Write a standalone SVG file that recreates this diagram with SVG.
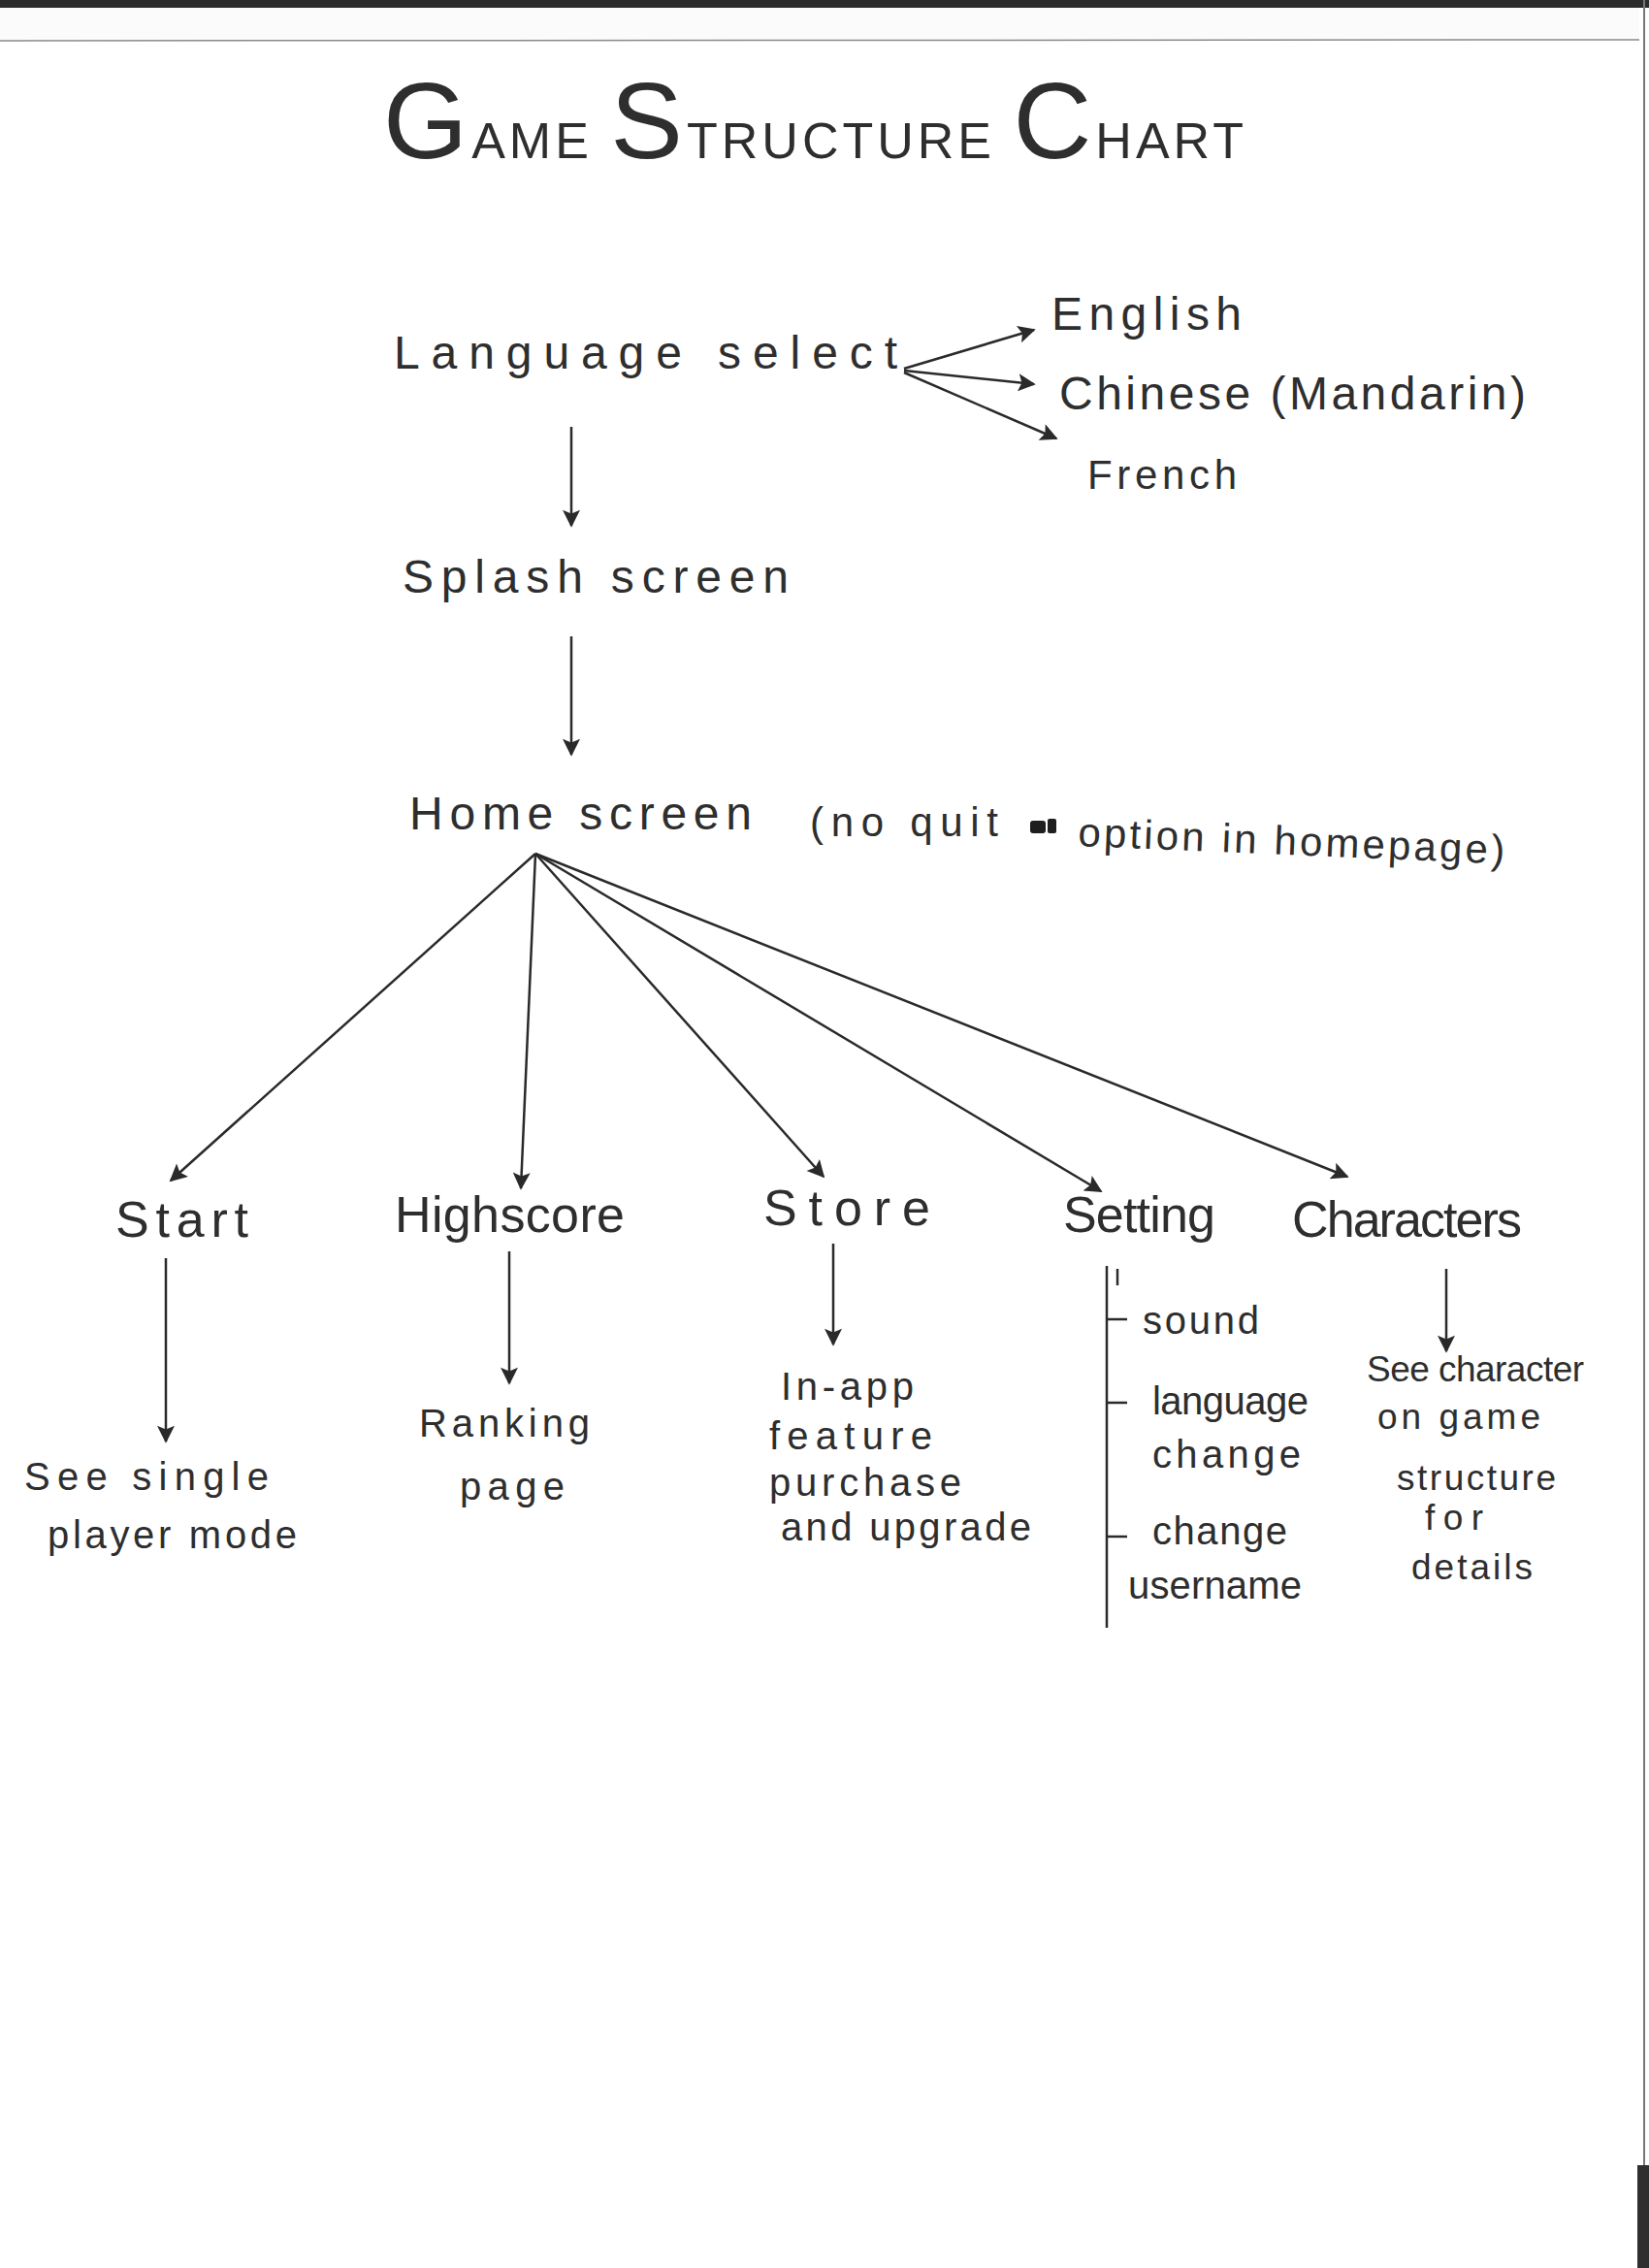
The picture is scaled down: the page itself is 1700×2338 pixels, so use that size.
<svg xmlns="http://www.w3.org/2000/svg" width="1700" height="2338" viewBox="0 0 1700 2338">
<defs>
<marker id="ah" viewBox="0 0 10 10" refX="9" refY="5" markerWidth="22" markerHeight="18" markerUnits="userSpaceOnUse" orient="auto">
<path d="M0,0 L10,5 L0,10 L2,5 z" fill="#2a2a2a"/>
</marker>
<style>
text{font-family:"Liberation Sans","DejaVu Sans",sans-serif;fill:#2e2e2e;}
.t{font-size:48px;}
.c{font-size:52px;}
.s{font-size:40px;}
.d{font-size:37px;}
.n{font-size:42px;}
.big{font-size:112px;}
.sm{font-size:52px;}
.con line,.con path{stroke:#2a2a2a;stroke-width:2.5;fill:none;}
.arr{marker-end:url(#ah);}
</style>
</defs>
<rect width="1700" height="2338" fill="#ffffff"/>
<rect x="0" y="0" width="1700" height="8" fill="#2b2b2b"/>
<rect x="0" y="8" width="1690" height="34" fill="#fbfbfb"/>
<line x1="0" y1="42" x2="1690" y2="41" stroke="#8a8a8a" stroke-width="1.5"/>
<line x1="1695" y1="0" x2="1695" y2="2338" stroke="#777" stroke-width="2"/>
<rect x="1688" y="2232" width="12" height="106" fill="#2f2f2f"/>

<g id="title">
<text x="395" y="163" textLength="887" lengthAdjust="spacing"><tspan class="big">G</tspan><tspan class="sm">AME </tspan><tspan class="big">S</tspan><tspan class="sm">TRUCTURE </tspan><tspan class="big">C</tspan><tspan class="sm">HART</tspan></text>
</g>

<g class="con" id="connectors">
<line class="arr" x1="932" y1="380" x2="1066" y2="340"/>
<line class="arr" x1="932" y1="382" x2="1066" y2="396"/>
<line class="arr" x1="932" y1="384" x2="1089" y2="452"/>
<line class="arr" x1="589" y1="440" x2="589" y2="542"/>
<line class="arr" x1="589" y1="656" x2="589" y2="778"/>
<line class="arr" x1="552" y1="880" x2="176" y2="1217"/>
<line class="arr" x1="552" y1="880" x2="537" y2="1225"/>
<line class="arr" x1="552" y1="880" x2="849" y2="1213"/>
<line class="arr" x1="552" y1="880" x2="1135" y2="1228"/>
<line class="arr" x1="552" y1="880" x2="1389" y2="1213"/>
<line class="arr" x1="171" y1="1297" x2="171" y2="1486"/>
<line class="arr" x1="525" y1="1290" x2="525" y2="1426"/>
<line class="arr" x1="859" y1="1282" x2="859" y2="1386"/>
<line class="arr" x1="1491" y1="1308" x2="1491" y2="1393"/>
<line x1="1141" y1="1305" x2="1141" y2="1678"/>
<line x1="1152" y1="1308" x2="1152" y2="1325"/>
<line x1="1141" y1="1360" x2="1162" y2="1360"/>
<line x1="1141" y1="1446" x2="1162" y2="1446"/>
<line x1="1141" y1="1584" x2="1162" y2="1584"/>
</g>

<g id="language-select"><text class="t" x="406" y="380" textLength="519" lengthAdjust="spacing">Language select</text></g>
<g id="english"><text class="t" x="1084" y="340" textLength="196" lengthAdjust="spacing">English</text></g>
<g id="chinese"><text class="t" x="1092" y="422" textLength="481" lengthAdjust="spacing">Chinese (Mandarin)</text></g>
<g id="french"><text class="n" x="1121" y="504" textLength="154" lengthAdjust="spacing">French</text></g>
<g id="splash-screen"><text class="t" x="415" y="611" textLength="398" lengthAdjust="spacing">Splash screen</text></g>
<g id="home-screen">
<text class="t" x="422" y="855" textLength="353" lengthAdjust="spacing">Home screen</text>
<text class="n" x="835" y="862" textLength="194" lengthAdjust="spacing">(no quit</text>
<rect x="1062" y="846" width="16" height="13" rx="3" fill="#1e1e1e"/>
<rect x="1080" y="844" width="9" height="15" rx="2" fill="#1e1e1e"/>
<text class="n" x="1111" y="872" textLength="440" lengthAdjust="spacing" transform="rotate(2.4 1111 872)">option in homepage)</text>
</g>
<g id="start"><text class="c" x="119" y="1275" textLength="137" lengthAdjust="spacing">Start</text></g>
<g id="highscore"><text class="c" x="407" y="1270" textLength="237" lengthAdjust="spacing">Highscore</text></g>
<g id="store"><text class="c" x="787" y="1263" textLength="172" lengthAdjust="spacing">Store</text></g>
<g id="setting"><text class="c" x="1096" y="1270" textLength="157" lengthAdjust="spacing">Setting</text></g>
<g id="characters"><text class="c" x="1332" y="1275" textLength="237" lengthAdjust="spacing">Characters</text></g>

<g id="single-player">
<text class="s" x="25" y="1536" textLength="252" lengthAdjust="spacing">See single</text>
<text class="s" x="49" y="1596" textLength="257" lengthAdjust="spacing">player mode</text>
</g>
<g id="ranking-page">
<text class="s" x="432" y="1481" textLength="176" lengthAdjust="spacing">Ranking</text>
<text class="s" x="474" y="1546" textLength="108" lengthAdjust="spacing">page</text>
</g>
<g id="in-app">
<text class="s" x="805" y="1443" textLength="137" lengthAdjust="spacing">In-app</text>
<text class="s" x="793" y="1494" textLength="168" lengthAdjust="spacing">feature</text>
<text class="s" x="793" y="1542" textLength="198" lengthAdjust="spacing">purchase</text>
<text class="s" x="805" y="1588" textLength="258" lengthAdjust="spacing">and upgrade</text>
</g>
<g id="setting-items">
<text class="s" x="1178" y="1375" textLength="120" lengthAdjust="spacing">sound</text>
<text class="s" x="1188" y="1458" textLength="161" lengthAdjust="spacing">language</text>
<text class="s" x="1188" y="1513" textLength="153" lengthAdjust="spacing">change</text>
<text class="s" x="1188" y="1592" textLength="139" lengthAdjust="spacing">change</text>
<text class="s" x="1163" y="1648" textLength="179" lengthAdjust="spacing">username</text>
</g>
<g id="character-details">
<text class="d" x="1409" y="1424" textLength="224" lengthAdjust="spacing">See character</text>
<text class="d" x="1420" y="1473" textLength="168" lengthAdjust="spacing">on game</text>
<text class="d" x="1440" y="1536" textLength="164" lengthAdjust="spacing">structure</text>
<text class="d" x="1469" y="1577" textLength="60" lengthAdjust="spacing">for</text>
<text class="d" x="1455" y="1628" textLength="125" lengthAdjust="spacing">details</text>
</g>
</svg>
